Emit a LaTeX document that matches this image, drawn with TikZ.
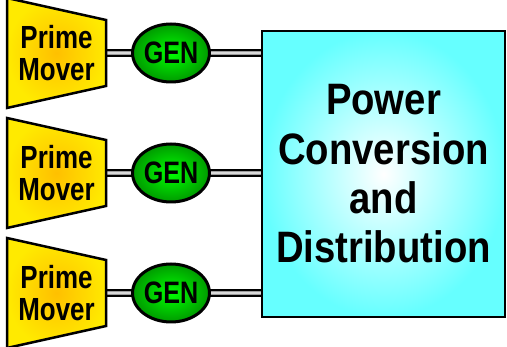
\documentclass[tikz,border=0pt]{standalone}
\usepackage{fontspec}
\setmainfont{Liberation Sans}
\newfontfamily\labelfont{Liberation Sans}[FakeStretch=0.81]
\newfontfamily\hubfont{Liberation Sans}[FakeStretch=0.87]
\usetikzlibrary{shapes.geometric,backgrounds}

\definecolor{moverEdge}{HTML}{FFEA00}
\definecolor{moverCore}{HTML}{FFC000}
\definecolor{genEdge}{HTML}{009A00}
\definecolor{genCore}{HTML}{00FF00}
\definecolor{hubEdge}{HTML}{66FFFF}
\definecolor{shaftGray}{HTML}{9A9A9A}
\definecolor{shaftLight}{HTML}{D8D8D8}

\begin{document}
\begin{tikzpicture}[x=1pt,y=-1pt,
  mover/.style={draw=black, line width=2.5pt, line join=miter,
    inner color=moverCore, outer color=moverEdge},
  moverlabel/.style={inner sep=0pt, align=center,
    font=\labelfont\bfseries\fontsize{32}{32}\selectfont},
  gen/.style={ellipse, draw=black, line width=3pt, inner sep=0pt,
    minimum width=75pt, minimum height=58pt,
    inner color=genCore, outer color=genEdge,
    font=\labelfont\bfseries\fontsize{31}{31}\selectfont},
  hub/.style={rectangle, draw=black, line width=2pt, inner sep=0pt,
    minimum width=243pt, minimum height=286pt,
    inner color=white, outer color=hubEdge,
    align=center, font=\hubfont\bfseries\fontsize{44}{49.3}\selectfont},
  shaft/.style={draw=black, line width=8pt},
  shaftfill/.style={draw=shaftGray, line width=4.5pt},
  shaftcore/.style={draw=shaftLight, line width=1.4pt}]

\clip (0,0) rectangle (507,347);

% power conversion and distribution block
\node[hub] (hub) at (383.5,174) {Power\\Conversion\\and\\Distribution};

% three prime mover / generator sets
\foreach \i/\y in {1/53, 2/173, 3/293} {
  \shadedraw[mover] (7,\y-55) -- (106,\y-33) -- (106,\y+33) -- (7,\y+55) -- cycle;
  \node[moverlabel] (pm\i) at (56.5,\y) {Prime\\Mover};
  \coordinate (pmR\i) at (106,\y);
  \node[gen] (gen\i) at (171,\y) {GEN};
}

% shafts and feeders, drawn beneath the shapes
\begin{scope}[on background layer]
  \foreach \i in {1,2,3} {
    \foreach \s in {shaft, shaftfill, shaftcore} {
      \draw[\s] (pmR\i) -- (gen\i.center);
      \draw[\s] (gen\i.center) -- (hub.west |- gen\i.center);
    }
  }
\end{scope}
\end{tikzpicture}
\end{document}
